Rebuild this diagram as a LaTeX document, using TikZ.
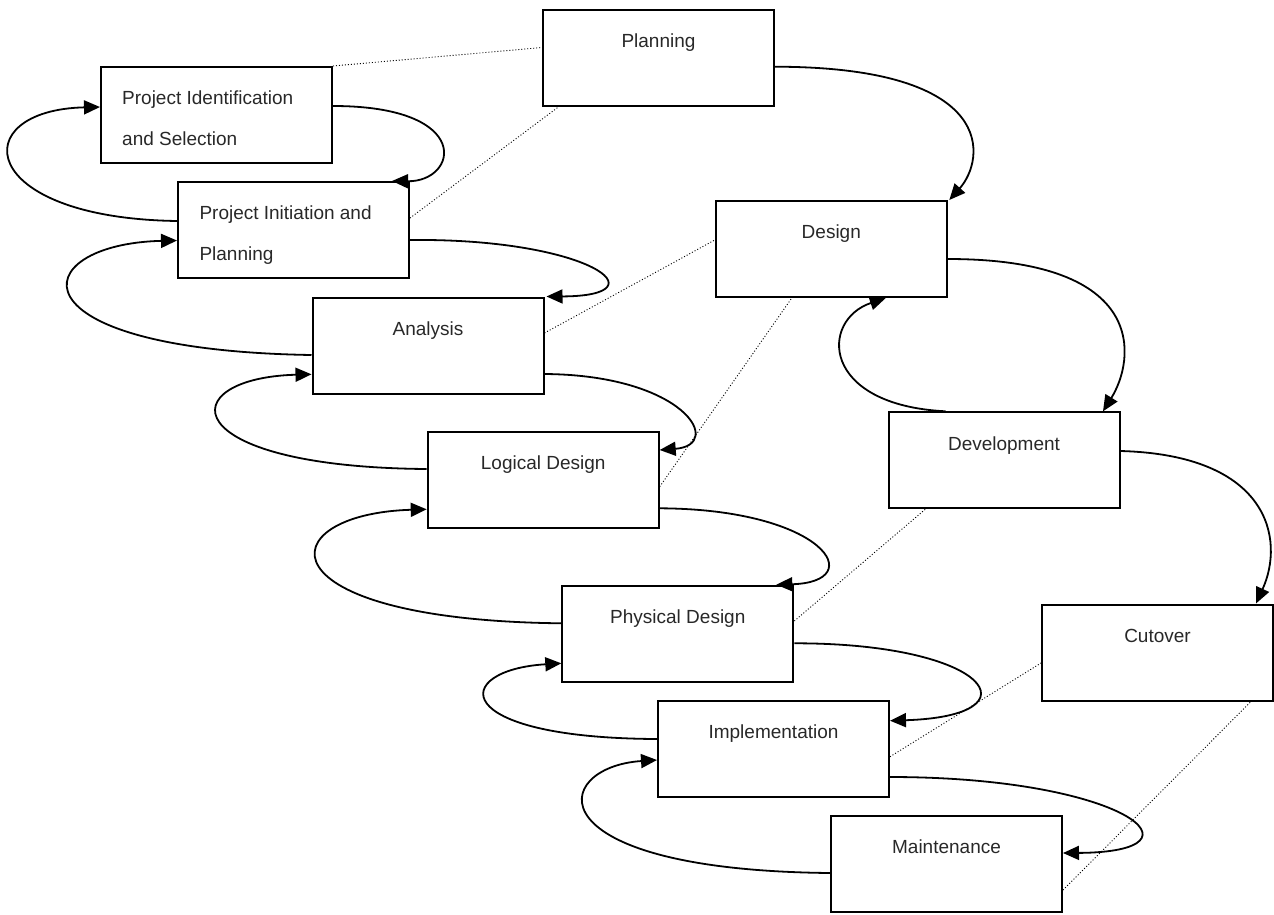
\documentclass[tikz,border=0pt]{standalone}
\usepackage{fontspec}
\setmainfont{Liberation Sans}
\usetikzlibrary{arrows.meta}
\definecolor{txtgray}{RGB}{40,40,40}
\begin{document}
\begin{tikzpicture}[x=1pt,y=-1pt,
  stage/.style={draw=black, line width=2pt, minimum width=231pt, minimum height=96pt, inner sep=0pt},
  caption/.style={anchor=base, font=\fontsize{19}{23}\selectfont, text=txtgray, inner sep=0pt},
  lcaption/.style={caption, anchor=base west},
  flow/.style={line width=1.8pt, -{Triangle[length=16pt,width=14pt]}},
  link/.style={line width=0.9pt, dash pattern=on 1pt off 2pt}]
\useasboundingbox (0,0) rectangle (1274,914);

% ---- stage boxes ----
\node[stage] (plan) at (658.5,57.5) {};
\node[stage] (pis)  at (216.5,115)  {};
\node[stage] (pip)  at (293.5,230)  {};
\node[stage] (ana)  at (428,345.5)  {};
\node[stage] (lod)  at (543.2,480)  {};
\node[stage] (phd)  at (677.8,633.7) {};
\node[stage] (imp)  at (773.5,748.7) {};
\node[stage] (mnt)  at (946.5,864)  {};
\node[stage] (des)  at (831.3,249)  {};
\node[stage] (dev)  at (1004,460.3) {};
\node[stage] (cut)  at (1157.5,652.5) {};

% ---- captions ----
\node[caption]  (plan-t)  at (658.5,47.2)  {Planning};
\node[lcaption] (pis-t1)  at (122,104.7)   {Project Identification};
\node[lcaption] (pis-t2)  at (122,145.2)   {and Selection};
\node[lcaption] (pip-t1)  at (199.3,219.7) {Project Initiation and};
\node[lcaption] (pip-t2)  at (199.3,260.2) {Planning};
\node[caption]  (ana-t)   at (428,335.2)   {Analysis};
\node[caption]  (lod-t)   at (543.2,469.7) {Logical Design};
\node[caption]  (phd-t)   at (677.8,623.4) {Physical Design};
\node[caption]  (imp-t)   at (773.5,738.4) {Implementation};
\node[caption]  (mnt-t)   at (946.5,853.7) {Maintenance};
\node[caption]  (des-t)   at (831.3,238.7) {Design};
\node[caption]  (dev-t)   at (1004,450.1)  {Development};
\node[caption]  (cut-t)   at (1157.5,642.2) {Cutover};

% ---- dotted links between the two columns ----
\draw[link] (pis.north east) -- ([yshift=10pt]plan.west);
\draw[link] ([yshift=12pt]pip.east) -- ([xshift=17pt]plan.south west);
\draw[link] ([yshift=12.5pt]ana.east) -- ([yshift=9pt]des.west);
\draw[link] ([yshift=-6.7pt]lod.east) -- ([xshift=77pt]des.south west);
\draw[link] ([yshift=12.7pt]phd.east) -- ([xshift=37.7pt]dev.south west);
\draw[link] ([yshift=-8pt]imp.east) -- ([yshift=-10.5pt]cut.west);
\draw[link] ([yshift=-26pt]mnt.east) -- ([xshift=-23pt]cut.south east);

% ---- forward / backward loops, left column ----
\draw[flow] ([yshift=9pt]pis.east) .. controls (475,106) and (458,182) .. ([xshift=-18pt]pip.north east);
\draw[flow] ([yshift=9pt]pip.west) .. controls (-25,218) and (-35,110) .. ([yshift=8pt]pis.west);

\draw[flow] ([yshift=-10pt]pip.east) .. controls (590,238) and (665,296) .. ([xshift=2pt]ana.north east);
\draw[flow] ([yshift=-9.5pt]ana.west) .. controls (5,350) and (25,244) .. ([yshift=-10.5pt]pip.west);

\draw[flow] ([yshift=-28.5pt]ana.east) .. controls (685,375) and (725,445) .. ([yshift=30pt]lod.east);
\draw[flow] ([yshift=11pt]lod.west) .. controls (172,467) and (172,378) .. ([yshift=-28.8pt]ana.west);

\draw[flow] ([yshift=-28.3pt]lod.east) .. controls (825,509) and (870,582) .. ([xshift=-18pt]phd.north east);
\draw[flow] ([yshift=10.4pt]phd.west) .. controls (258,620) and (268,514) .. ([yshift=-29.3pt]lod.west);

\draw[flow] ([yshift=-9.6pt]phd.east) .. controls (990,643) and (1040,716) .. ([yshift=28pt]imp.east);
\draw[flow] ([yshift=9.7pt]imp.west) .. controls (446,738) and (451,670) .. ([yshift=-29.6pt]phd.west);

\draw[flow] ([yshift=-28.3pt]imp.east) .. controls (1125,777) and (1215,852) .. ([yshift=11pt]mnt.east);
\draw[flow] ([yshift=-9pt]mnt.west) .. controls (530,870) and (550,767) .. ([yshift=-11.3pt]imp.west);

% ---- right column ----
\draw[flow] ([yshift=-9.2pt]plan.east) .. controls (1000,67) and (985,160) .. ([xshift=1.5pt]des.north east);
\draw[flow] ([yshift=-10pt]des.east) .. controls (1150,259) and (1135,360) .. ([xshift=-17.5pt]dev.north east);
\draw[flow] ([xshift=58pt]dev.north west) .. controls (820,405) and (820,320) .. ([xshift=-62pt]des.south east);
\draw[flow] ([yshift=9.3pt]dev.east) .. controls (1270,455) and (1285,540) .. ([xshift=-18pt]cut.north east);
\end{tikzpicture}
\end{document}
